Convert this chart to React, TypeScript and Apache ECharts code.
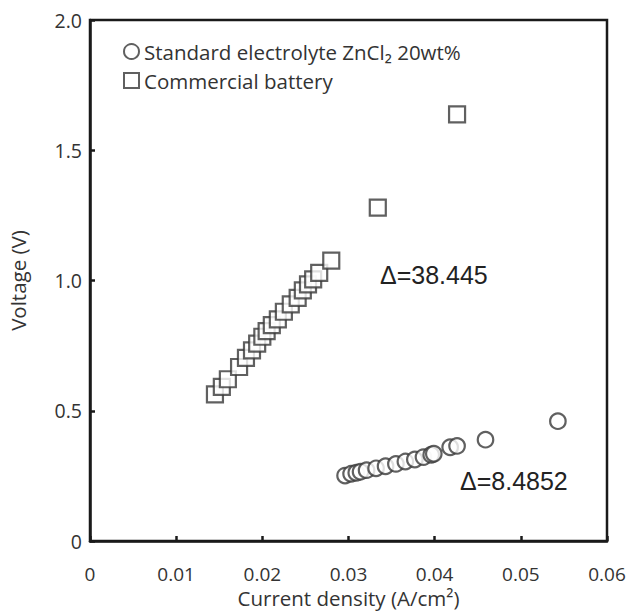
import React, { useEffect, useRef } from "react";
import * as echarts from "echarts";

const xTicks = [0, 0.01, 0.02, 0.03, 0.04, 0.05, 0.06];
const yTicks = [0, 0.5, 1.0, 1.5, 2.0];

const seriesNames = ["Standard electrolyte ZnCl₂ 20wt%", "Commercial battery"];

const circleX = [0.0296, 0.0303, 0.0309, 0.0314, 0.0321, 0.0332, 0.0343, 0.0355, 0.0366, 0.0377, 0.0387, 0.0396, 0.0399, 0.0418, 0.0426, 0.0459, 0.0543];
const circleY = [0.251, 0.258, 0.262, 0.266, 0.272, 0.279, 0.287, 0.296, 0.305, 0.313, 0.322, 0.331, 0.335, 0.360, 0.365, 0.389, 0.460];

const squareX = [0.0145, 0.0153, 0.0160, 0.0173, 0.0181, 0.0188, 0.0194, 0.0200, 0.0205, 0.0211, 0.0218, 0.0225, 0.0233, 0.0241, 0.0247, 0.0253, 0.0259, 0.0266, 0.0280, 0.0334, 0.0426];
const squareY = [0.563, 0.592, 0.621, 0.668, 0.703, 0.732, 0.758, 0.784, 0.806, 0.829, 0.851, 0.880, 0.908, 0.933, 0.962, 0.985, 1.004, 1.029, 1.076, 1.280, 1.638];

const annotations = ["Δ=38.445", "Δ=8.4852"];

const FONT = "'Open Sans', 'Noto Sans', 'DejaVu Sans', sans-serif";

export default function App() {
  const ref = useRef<HTMLDivElement>(null);
  useEffect(() => {
    document.body.style.margin = "0";
    if (!ref.current) return;
    const chart = echarts.init(ref.current, null, { renderer: "svg" });
    const pts = (xs: number[], ys: number[]) => xs.map((x, i) => [x, ys[i]]);
    const markStyle = { color: "#ffffff", borderColor: "#383838", borderWidth: 2.2 };
    chart.setOption({
      animation: false,
      backgroundColor: "#ffffff",
      grid: {
        left: 90,
        right: 20,
        top: 20,
        bottom: 72,
        containLabel: false,
        outerBoundsMode: "none",
        show: true,
        borderColor: "#1a1a1a",
        borderWidth: 2.5,
        backgroundColor: "transparent",
      },
      legend: {
        orient: "vertical",
        left: 118,
        top: 36,
        itemWidth: 15,
        itemHeight: 15,
        itemGap: 8,
        textStyle: { fontFamily: FONT, fontSize: 20.5, color: "#333" },
        data: [
          { name: seriesNames[0], icon: "circle" },
          { name: seriesNames[1], icon: "rect" },
        ],
      },
      xAxis: {
        type: "value",
        min: 0,
        max: 0.06,
        interval: 0.01,
        name: "Current density (A/cm²)",
        nameLocation: "middle",
        nameGap: 46,
        nameTextStyle: { fontFamily: FONT, fontSize: 20.5, color: "#333" },
        axisLine: { show: true, lineStyle: { color: "#1a1a1a", width: 2.5 } },
        axisTick: { show: true, inside: true, length: 5, lineStyle: { color: "#1a1a1a", width: 2.5 } },
        axisLabel: {
          fontFamily: FONT,
          fontSize: 19,
          color: "#333",
          margin: 23,
          formatter: (v: number) => (xTicks.includes(Math.round(v * 100) / 100) ? String(Math.round(v * 100) / 100) : ""),
        },
        splitLine: { show: false },
      },
      yAxis: {
        type: "value",
        min: 0,
        max: 2.0,
        interval: 0.5,
        name: "Voltage (V)",
        nameLocation: "middle",
        nameGap: 62,
        nameTextStyle: { fontFamily: FONT, fontSize: 20.5, color: "#333" },
        axisLine: { show: true, lineStyle: { color: "#1a1a1a", width: 2.5 } },
        axisTick: { show: true, inside: true, length: 5, lineStyle: { color: "#1a1a1a", width: 2.5 } },
        axisLabel: {
          fontFamily: FONT,
          fontSize: 19.5,
          color: "#333",
          margin: 8,
          formatter: (v: number) => {
            const t = yTicks.find((k) => Math.abs(k - v) < 1e-9);
            if (t === undefined) return "";
            return t === 0 ? "0" : t.toFixed(1);
          },
        },
        splitLine: { show: false },
      },
      graphic: [
        {
          type: "text",
          left: 380,
          top: 262,
          style: { text: annotations[0], fontFamily: "'Liberation Sans', Arial, sans-serif", fontSize: 25, fill: "#222" },
        },
        {
          type: "text",
          left: 460,
          top: 468,
          style: { text: annotations[1], fontFamily: "'Liberation Sans', Arial, sans-serif", fontSize: 25, fill: "#222" },
        },
      ],
      series: [
        {
          name: seriesNames[0],
          type: "scatter",
          symbol: "circle",
          symbolSize: 15.5,
          itemStyle: markStyle,
          data: pts(circleX, circleY),
        },
        {
          name: seriesNames[1],
          type: "scatter",
          symbol: "rect",
          symbolSize: 16,
          itemStyle: markStyle,
          data: pts(squareX, squareY),
        },
      ],
    });
    return () => chart.dispose();
  }, []);
  return <div ref={ref} style={{ width: 627, height: 613 }} />;
}
